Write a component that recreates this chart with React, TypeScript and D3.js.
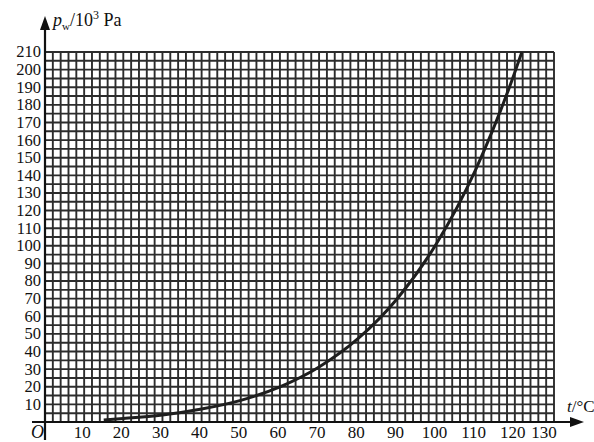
import { useEffect, useRef } from 'react';
import * as d3 from 'd3';

const width = 594;
const height = 442;
const [mt, mr, mb, ml] = [52, 40, 20, 45];

// values: water vapour pressure (10^3 Pa) against temperature (°C)
const temps = [15, 20, 30, 40, 50, 60, 70, 80, 90, 100, 110, 120, 121.8];
const pressures = [1.2, 2.0, 4.0, 7.4, 12.3, 19.9, 31.2, 47.4, 70.1, 101.3, 143.3, 198.5, 210];

const xTicks = [10, 20, 30, 40, 50, 60, 70, 80, 90, 100, 110, 120, 130];
const yTicks = [10, 20, 30, 40, 50, 60, 70, 80, 90, 100, 110, 120, 130, 140, 150, 160, 170, 180, 190, 200, 210];

const font = '"Liberation Serif", "DejaVu Serif", serif';

export default function App() {
    const chart = useRef<SVGSVGElement | null>(null);

    useEffect(() => {
        const svg = d3.select(chart.current);
        svg.selectAll('*').remove();

        const x = d3.scaleLinear().domain([0, 130]).range([ml, width - mr]);
        const y = d3.scaleLinear().domain([0, 210]).range([height - mb, mt]);

        // grid: 2 °C per column, 5 kPa per row
        const grid = svg.append('g').attr('stroke', '#2c2c2c').attr('stroke-width', 1.9);
        grid.selectAll('line.v')
            .data(d3.range(2, 131, 2))
            .join('line')
            .attr('x1', (d) => x(d))
            .attr('x2', (d) => x(d))
            .attr('y1', y(0))
            .attr('y2', y(210));
        grid.selectAll('line.h')
            .data(d3.range(5, 211, 5))
            .join('line')
            .attr('x1', x(0))
            .attr('x2', x(130))
            .attr('y1', (d) => y(d))
            .attr('y2', (d) => y(d));

        // axes with arrows
        const axes = svg.append('g').attr('stroke', '#111').attr('stroke-width', 2.2);
        axes.append('line').attr('x1', x(0)).attr('x2', x(0)).attr('y1', 440).attr('y2', 24);
        axes.append('line').attr('x1', 32).attr('x2', 576).attr('y1', y(0)).attr('y2', y(0));
        svg.append('path')
            .attr('d', `M${x(0)},16 L${x(0) - 5},30 L${x(0) + 5},30 Z`)
            .attr('fill', '#111');
        svg.append('path')
            .attr('d', `M584,${y(0)} L570,${y(0) - 5} L570,${y(0) + 5} Z`)
            .attr('fill', '#111');

        // curve
        const line = d3
            .line<number>()
            .x((_d, i) => x(temps[i]))
            .y((d) => y(d))
            .curve(d3.curveMonotoneX);
        svg.append('path')
            .datum(pressures)
            .attr('d', line)
            .attr('fill', 'none')
            .attr('stroke', '#1e1e1e')
            .attr('stroke-width', 3);

        // tick labels
        svg.append('g')
            .selectAll('text')
            .data(xTicks)
            .join('text')
            .attr('x', (d) => x(d) - (d === 130 ? 10 : 2))
            .attr('y', 438)
            .attr('text-anchor', 'middle')
            .style('font', `17px ${font}`)
            .attr('fill', '#111')
            .text((d) => d);

        svg.append('g')
            .selectAll('text')
            .data(yTicks)
            .join('text')
            .attr('x', 41)
            .attr('y', (d) => y(d))
            .attr('dy', '0.33em')
            .attr('text-anchor', 'end')
            .style('font', `16.5px ${font}`)
            .attr('fill', '#111')
            .text((d) => d);

        svg.append('text')
            .attr('x', 31)
            .attr('y', 438)
            .style('font', `italic 18px ${font}`)
            .attr('fill', '#111')
            .text('O');

        // axis titles
        const yTitle = svg.append('text').attr('x', 53).attr('y', 26).style('font', `18px ${font}`).attr('fill', '#111');
        yTitle.append('tspan').style('font-style', 'italic').text('p');
        yTitle.append('tspan').attr('dy', 4).style('font-size', '11px').text('w');
        yTitle.append('tspan').attr('dy', -4).text('/10');
        yTitle.append('tspan').attr('dy', -7).style('font-size', '12px').text('3');
        yTitle.append('tspan').attr('dy', 7).text(' Pa');

        const xTitle = svg.append('text').attr('x', 567).attr('y', 412).style('font', `17px ${font}`).attr('fill', '#111');
        xTitle.append('tspan').style('font-style', 'italic').text('t');
        xTitle.append('tspan').text('/°C');
    }, []);

    return (
        <svg
            ref={chart}
            width={width}
            height={height}
            style={{ position: 'absolute', left: 0, top: 0, background: '#fff' }}
        />
    );
}
